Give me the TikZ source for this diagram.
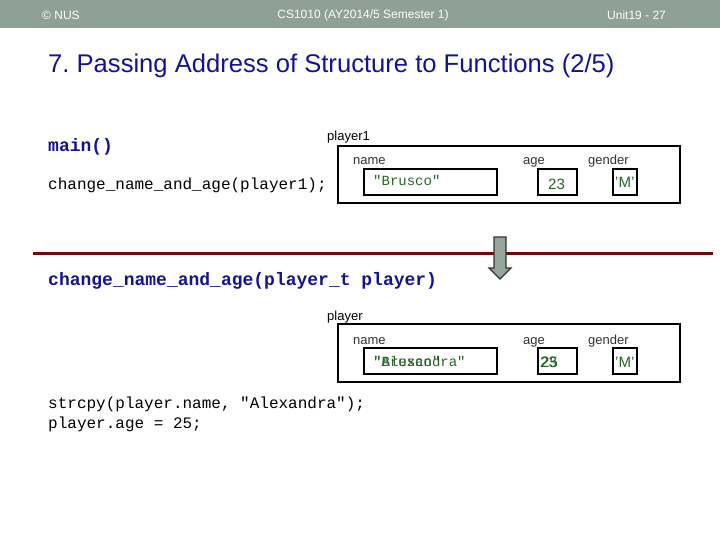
\documentclass[tikz,border=0pt]{standalone}
\usepackage{fontspec}
\setmainfont{Liberation Sans}
\setmonofont{Liberation Mono}
\frenchspacing
\definecolor{barcol}{RGB}{143,160,150}
\definecolor{navy}{RGB}{20,20,140}
\definecolor{linered}{RGB}{110,10,10}
\definecolor{valgreen}{RGB}{40,100,40}
\definecolor{lblgray}{RGB}{50,50,50}
\definecolor{arrowfill}{RGB}{150,165,155}
\begin{document}
\begin{tikzpicture}[x=1pt,y=-1pt,
  hdr/.style={text=white,font=\fontsize{12}{14}\selectfont,inner sep=0pt},
  lbl/.style={text=lblgray,font=\fontsize{13}{15}\selectfont,anchor=base west,inner sep=0pt},
  code/.style={text=black,font=\ttfamily\fontsize{16}{18}\selectfont,anchor=base west,inner sep=0pt},
  bcode/.style={text=navy,font=\ttfamily\bfseries\fontsize{18}{20}\selectfont,anchor=base west,inner sep=0pt},
  box/.style={draw=black,line width=1.6pt},
  val/.style={text=valgreen,inner sep=0pt,anchor=base west},
  mval/.style={val,font=\ttfamily\fontsize{14}{16}\selectfont},
  sval/.style={val,font=\fontsize{15}{17}\selectfont},
]
\useasboundingbox (0,0) rectangle (720,540);
\fill[white] (0,0) rectangle (720,540);
\fill[barcol] (0,0) rectangle (720,28);
\node[hdr,anchor=west] (nus) at (42,15) {© NUS};
\node[hdr] (course) at (363,15) {CS1010 (AY2014/5 Semester 1)};
\node[hdr,anchor=west] (unit) at (607,15) {Unit19 - 27};
\node[anchor=base west,inner sep=0pt,text=navy,font=\fontsize{25.6}{28}\selectfont] (title) at (48,73) {7. Passing Address of Structure to Functions (2/5)};

\node[bcode] (main) at (48,152) {main()};
\node[code] (call) at (48,190) {change\_name\_and\_age(player1);};

% box 1
\node[lbl,text=black] (p1) at (327,141) {player1};
\draw[box] (338,146) rectangle (680,203);
\node[lbl] (n1) at (353,165) {name};
\node[lbl] (a1) at (523,165) {age};
\node[lbl] (g1) at (588,165) {gender};
\draw[box] (364,169) rectangle (497,195);
\draw[box] (538,169) rectangle (577,195);
\draw[box] (613,169) rectangle (637,195);
\node[mval] (v1) at (373,186) {"Brusco"};
\node[sval] (ag1) at (548,190) {23};
\node[sval] (m1) at (615,188) {'M'};

% divider and arrow
\draw[linered,line width=3pt] (33,253) -- (713,253);
\draw[draw=black!80,fill=arrowfill,line width=1.2pt,line join=miter]
  (494,237) -- (506,237) -- (506,268) -- (511,268) -- (500,279) -- (489,268) -- (494,268) -- cycle;

\node[bcode] (fn) at (48,285) {change\_name\_and\_age(player\_t player)};

% box 2
\node[lbl,text=black] (p2) at (327,320) {player};
\draw[box] (338,324) rectangle (680,382);
\node[lbl] (n2) at (353,344) {name};
\node[lbl] (a2) at (523,344) {age};
\node[lbl] (g2) at (588,344) {gender};
\draw[box] (364,348) rectangle (497,374);
\draw[box] (538,348) rectangle (577,374);
\draw[box] (613,348) rectangle (637,374);
\node[mval] (v2a) at (373,366) {"Brusco"};
\node[mval] (v2b) at (373,366) {"Alexandra"};
\node[sval] (ag2a) at (540,367) {23};
\node[sval] (ag2b) at (541,367) {25};
\node[sval] (m2) at (615,367) {'M'};

\node[code] (s1) at (48,408) {strcpy(player.name, "Alexandra");};
\node[code] (s2) at (48,428) {player.age = 25;};
\end{tikzpicture}
\end{document}
